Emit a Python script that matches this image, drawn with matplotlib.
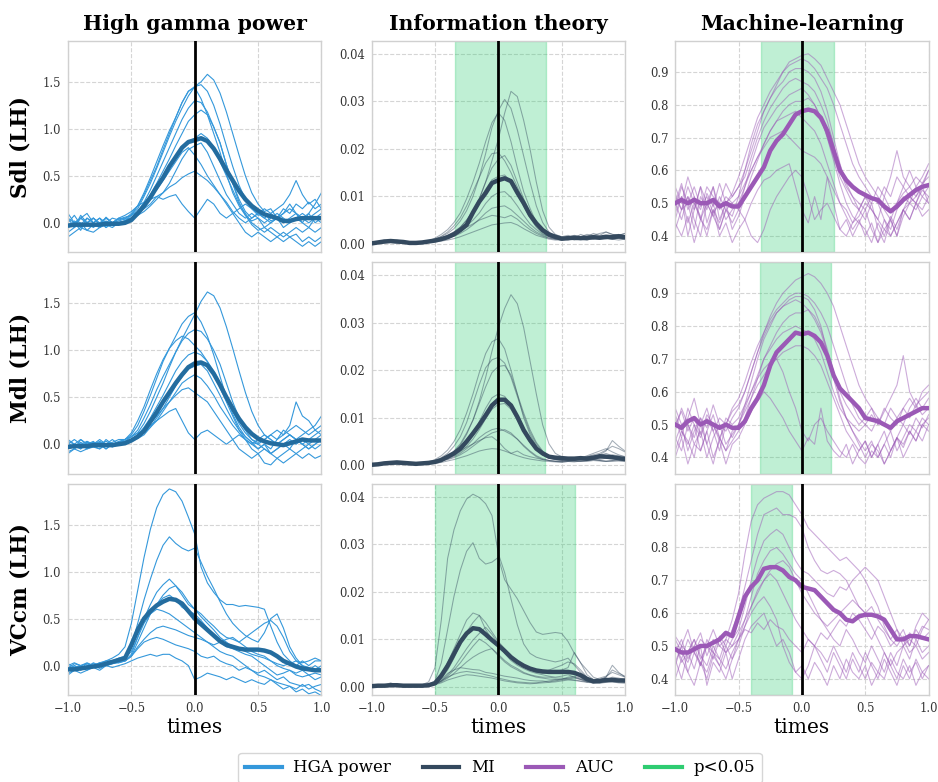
import numpy as np
import matplotlib
matplotlib.use('Agg')
import matplotlib.pyplot as plt
from matplotlib.lines import Line2D
from matplotlib.ticker import FormatStrFormatter

# ---------------- labels ----------------
ROW_LABELS = ['Sdl (LH)', 'Mdl (LH)', 'VCcm (LH)']
COL_TITLES = ['High gamma power', 'Information theory', 'Machine-learning']
LEGEND_LABELS = ['HGA power', 'MI', 'AUC', 'p<0.05']
X_TICKS = [-1.0, -0.5, 0.0, 0.5, 1.0]

# ---------------- HGA power ----------------
HGA_SDL_MEAN = [-0.03,-0.02,-0.02,-0.02,-0.02,-0.02,-0.01,-0.01,-0.01,0.00,
                0.03,0.10,0.18,0.27,0.38,0.48,0.60,0.70,0.80,0.86,
                0.88,0.90,0.87,0.79,0.68,0.56,0.45,0.34,0.25,0.18,
                0.13,0.09,0.07,0.05,0.02,0.02,0.04,0.05,0.05,0.05,0.05]
HGA_SDL_LINES = [
    [0.05,-0.05,0.08,0.00,0.05,-0.02,0.06,0.00,0.04,0.06, 0.08,0.15,0.28,0.42,0.58,0.75,0.92,1.08,1.22,1.35,
     1.45,1.50,1.58,1.52,1.38,1.18,0.95,0.72,0.50,0.32, 0.20,0.12,0.15,0.05,0.10,0.20,0.10,0.00,0.10,0.20,0.32],
    [-0.05,0.00,-0.08,0.05,0.00,-0.05,0.02,-0.03,0.00,0.02, 0.08,0.18,0.32,0.48,0.65,0.82,0.98,1.12,1.28,1.40,
     1.45,1.47,1.40,1.25,1.05,0.82,0.60,0.40,0.25,0.15, 0.08,0.10,0.02,0.05,0.15,0.10,0.20,0.15,0.22,0.15,0.20],
    [0.00,0.08,-0.02,0.05,0.00,0.05,-0.05,0.00,0.02,0.04, 0.10,0.18,0.30,0.45,0.60,0.78,0.95,1.12,1.28,1.40,
     1.44,1.32,1.15,0.95,0.75,0.52,0.32,0.18,0.08,0.02, 0.05,-0.05,0.00,0.05,-0.05,0.00,0.05,0.00,-0.05,0.05,0.10],
    [-0.10,-0.05,0.00,-0.08,-0.02,-0.05,0.00,-0.03,0.00,0.02, 0.05,0.12,0.22,0.35,0.50,0.65,0.80,0.95,1.10,1.22,
     1.30,1.28,1.18,1.02,0.85,0.62,0.42,0.22,0.08,-0.02, -0.08,-0.05,-0.10,-0.15,-0.10,-0.15,-0.12,-0.20,-0.15,-0.20,-0.15],
    [0.05,0.00,0.05,0.10,0.00,0.05,0.00,0.05,0.03,0.05, 0.08,0.12,0.20,0.30,0.42,0.55,0.68,0.82,0.95,1.08,
     1.15,1.20,1.15,1.02,0.85,0.62,0.42,0.25,0.12,0.05, 0.10,0.15,0.10,0.05,0.10,0.15,0.10,0.05,0.10,0.00,0.05],
    [-0.05,0.02,-0.03,0.00,-0.05,0.00,-0.02,0.00,0.00,0.02, 0.05,0.10,0.18,0.28,0.38,0.48,0.58,0.68,0.78,0.86,
     0.90,0.95,0.90,0.80,0.65,0.50,0.35,0.20,0.10,0.00, -0.05,-0.10,-0.05,-0.10,-0.15,-0.10,-0.05,-0.10,-0.05,-0.10,-0.05],
    [0.10,0.00,0.05,0.00,0.05,0.00,0.05,0.00,0.05,0.04, 0.05,0.08,0.12,0.18,0.25,0.32,0.42,0.55,0.68,0.78,
     0.82,0.85,0.75,0.60,0.45,0.30,0.20,0.10,0.05,0.10, 0.05,0.00,0.05,0.10,0.05,0.00,0.05,0.10,0.05,0.10,0.15],
    [-0.15,-0.10,-0.05,-0.08,-0.10,-0.05,-0.02,-0.05,0.00,0.02, 0.05,0.12,0.20,0.28,0.35,0.45,0.55,0.65,0.75,0.80,
     0.72,0.62,0.50,0.40,0.30,0.20,0.10,0.00,-0.10,-0.15, -0.10,-0.15,-0.20,-0.15,-0.20,-0.15,-0.20,-0.25,-0.20,-0.25,-0.20],
    [-0.05,0.00,-0.05,0.00,-0.03,0.00,-0.05,0.00,0.00,0.02, 0.05,0.10,0.15,0.20,0.28,0.32,0.38,0.42,0.48,0.52,
     0.55,0.50,0.45,0.38,0.30,0.22,0.12,0.05,0.00,0.05, 0.10,0.05,0.00,0.05,0.00,0.05,0.10,0.05,0.00,0.05,0.00],
    [0.00,-0.05,0.05,0.00,0.05,-0.02,0.05,0.00,0.05,0.08, 0.12,0.18,0.22,0.25,0.28,0.25,0.28,0.30,0.20,0.12,
     0.05,0.15,0.25,0.20,0.10,0.05,0.10,0.15,0.20,0.15, 0.10,0.05,0.10,0.15,0.20,0.30,0.45,0.30,0.20,0.25,0.15],
]

HGA_MDL_MEAN = [-0.03,-0.02,-0.02,-0.02,-0.01,-0.01,-0.01,-0.01,0.00,0.01,
                0.04,0.08,0.14,0.24,0.34,0.45,0.55,0.65,0.74,0.82,
                0.86,0.87,0.84,0.75,0.63,0.50,0.38,0.27,0.18,0.11,
                0.06,0.03,0.01,0.00,-0.01,0.01,0.03,0.05,0.04,0.04,0.04]
HGA_MDL_LINES = [
    [0.02,-0.05,0.05,0.00,0.03,-0.03,0.05,0.00,0.03,0.05, 0.08,0.12,0.22,0.35,0.50,0.65,0.82,0.98,1.12,1.25,
     1.38,1.52,1.62,1.58,1.45,1.25,1.02,0.78,0.55,0.35, 0.20,0.10,0.05,0.00,0.05,0.10,0.05,0.00,-0.05,0.00,0.05],
    [-0.05,0.00,-0.05,0.03,-0.02,0.00,-0.05,0.00,0.02,0.05, 0.10,0.20,0.35,0.52,0.70,0.88,1.02,1.15,1.28,1.36,
     1.40,1.30,1.15,0.95,0.72,0.50,0.32,0.18,0.08,0.02, -0.05,0.00,-0.10,-0.05,0.00,-0.05,0.05,0.00,-0.05,0.00,0.05],
    [0.05,0.00,-0.03,0.02,0.00,0.05,0.00,-0.02,0.00,0.03, 0.08,0.15,0.28,0.42,0.58,0.72,0.85,0.98,1.10,1.18,
     1.22,1.20,1.12,1.00,0.85,0.65,0.45,0.28,0.15,0.05, 0.00,-0.05,-0.10,-0.15,-0.20,-0.15,-0.10,-0.15,-0.10,-0.15,-0.12],
    [-0.08,-0.05,0.00,-0.05,-0.03,0.00,-0.05,0.00,0.00,0.05, 0.12,0.25,0.40,0.58,0.75,0.90,1.02,1.10,1.15,1.12,
     1.05,0.98,0.88,0.75,0.60,0.45,0.30,0.15,0.05,-0.05, -0.10,-0.20,-0.22,-0.15,-0.10,-0.05,-0.10,-0.05,0.00,-0.05,0.00],
    [0.00,0.05,0.00,0.03,0.00,0.02,0.00,0.05,0.00,0.03, 0.05,0.10,0.18,0.28,0.40,0.52,0.65,0.78,0.88,0.95,
     0.98,0.95,0.88,0.78,0.65,0.50,0.35,0.22,0.12,0.05, 0.02,0.05,0.10,0.05,0.15,0.10,0.05,0.10,0.15,0.20,0.30],
    [-0.05,-0.02,-0.05,0.00,-0.03,-0.05,0.00,-0.02,0.00,0.00, 0.03,0.06,0.10,0.18,0.28,0.38,0.50,0.62,0.72,0.80,
     0.83,0.85,0.78,0.65,0.52,0.38,0.25,0.15,0.08,0.02, 0.00,0.05,0.10,0.15,0.10,0.15,0.20,0.15,0.10,0.15,0.10],
    [0.03,0.00,0.05,0.00,0.02,0.00,0.03,0.00,0.02,0.03, 0.05,0.08,0.12,0.18,0.25,0.35,0.45,0.55,0.65,0.70,
     0.74,0.70,0.62,0.52,0.40,0.30,0.20,0.12,0.05,0.00, -0.05,0.00,-0.05,0.05,0.10,0.20,0.45,0.30,0.25,0.15,0.20],
    [-0.10,-0.05,-0.08,-0.05,-0.02,-0.05,0.00,-0.03,0.00,0.02, 0.05,0.10,0.15,0.22,0.30,0.38,0.45,0.52,0.58,0.60,
     0.55,0.50,0.45,0.35,0.25,0.15,0.05,-0.05,-0.10,-0.15, -0.10,-0.05,-0.10,-0.05,0.00,0.05,0.00,0.05,0.00,0.05,0.10],
    [0.00,-0.03,0.02,-0.02,0.00,0.03,0.00,0.02,0.05,0.05, 0.08,0.12,0.15,0.20,0.25,0.30,0.35,0.38,0.25,0.12,
     0.05,0.12,0.15,0.10,0.05,0.00,0.05,0.10,0.05,0.00, 0.05,0.10,0.05,0.00,0.05,0.10,0.05,0.00,0.05,0.10,0.15],
]

HGA_VCCM_MEAN = [-0.04,-0.04,-0.03,-0.02,-0.01,0.00,0.02,0.04,0.06,0.08,
                 0.22,0.38,0.50,0.58,0.64,0.68,0.71,0.70,0.66,0.58,
                 0.50,0.44,0.38,0.32,0.26,0.22,0.20,0.18,0.17,0.17,
                 0.17,0.16,0.14,0.10,0.05,0.02,-0.01,-0.03,-0.04,-0.05,-0.05]
HGA_VCCM_LINES = [
    [-0.05,0.00,-0.03,0.02,0.00,0.03,0.05,0.08,0.12,0.20, 0.45,0.80,1.15,1.45,1.68,1.82,1.88,1.85,1.75,1.58,
     1.40,1.05,0.88,0.78,0.70,0.65,0.65,0.63,0.64,0.63, 0.62,0.60,0.42,0.25,0.12,0.05,0.00,0.05,0.00,0.05,0.05],
    [-0.03,0.02,0.00,-0.02,0.03,0.00,0.02,0.05,0.05,0.08, 0.20,0.45,0.70,0.92,1.12,1.28,1.37,1.30,1.25,1.22,
     1.25,1.10,0.95,0.82,0.68,0.55,0.45,0.38,0.32,0.28, 0.25,0.35,0.50,0.55,0.40,0.20,0.08,0.00,-0.02,-0.05,0.00],
    [-0.08,-0.05,-0.02,-0.05,0.00,-0.03,0.00,0.02,0.03,0.05, 0.12,0.30,0.50,0.65,0.78,0.86,0.92,0.85,0.75,0.65,
     0.60,0.55,0.48,0.42,0.35,0.30,0.28,0.25,0.30,0.35, 0.40,0.45,0.48,0.42,0.30,0.15,0.05,0.00,-0.05,0.00,-0.05],
    [0.00,-0.05,0.00,0.02,0.00,0.03,0.00,0.02,0.05,0.05, 0.10,0.25,0.40,0.55,0.65,0.75,0.82,0.85,0.78,0.68,
     0.60,0.52,0.45,0.38,0.30,0.25,0.20,0.18,0.15,0.12, 0.10,0.08,0.05,0.00,-0.03,-0.05,-0.08,-0.05,-0.10,-0.08,-0.10],
    [-0.05,-0.02,0.00,-0.03,0.00,0.02,0.00,0.03,0.05,0.08, 0.15,0.30,0.45,0.55,0.65,0.72,0.75,0.70,0.62,0.58,
     0.55,0.48,0.40,0.32,0.25,0.20,0.18,0.15,0.12,0.10, 0.05,0.00,-0.05,-0.10,-0.08,-0.05,-0.10,-0.12,-0.10,-0.15,-0.12],
    [0.02,-0.02,0.00,0.03,0.00,0.02,0.05,0.05,0.08,0.10, 0.20,0.35,0.48,0.55,0.60,0.58,0.55,0.50,0.45,0.40,
     0.35,0.30,0.25,0.20,0.15,0.12,0.10,0.05,0.00,-0.05, -0.10,-0.12,-0.15,-0.18,-0.20,-0.22,-0.25,-0.20,-0.25,-0.22,-0.20],
    [-0.05,0.00,-0.05,0.00,0.02,0.00,0.02,0.05,0.03,0.05, 0.10,0.20,0.28,0.35,0.40,0.42,0.40,0.38,0.35,0.32,
     0.30,0.28,0.25,0.22,0.25,0.28,0.30,0.25,0.20,0.15, 0.12,0.10,0.05,0.02,0.00,0.02,0.05,0.03,0.05,0.08,0.05],
    [0.00,0.03,0.00,-0.02,0.00,0.02,0.00,0.03,0.05,0.05, 0.10,0.18,0.25,0.28,0.30,0.28,0.25,0.22,0.20,0.18,
     0.15,0.10,0.08,0.10,0.05,0.02,0.00,-0.05,-0.02,-0.05, -0.08,-0.05,-0.10,-0.15,-0.12,-0.18,-0.20,-0.22,-0.20,-0.25,-0.28],
    [-0.10,-0.05,-0.08,-0.05,-0.02,-0.05,0.00,-0.02,0.00,0.02, 0.05,0.08,0.10,0.12,0.10,0.12,0.12,0.08,0.05,0.00,
     -0.15,-0.12,-0.08,-0.10,-0.12,-0.15,-0.12,-0.15,-0.18,-0.15, -0.18,-0.20,-0.15,-0.20,-0.25,-0.22,-0.28,-0.25,-0.30,-0.28,-0.32],
]

# ---------------- MI ----------------
MI_SDL_MEAN = [0.0001,0.0003,0.0005,0.0006,0.0005,0.0004,0.0002,0.0002,0.0003,0.0005,
               0.0007,0.0010,0.0014,0.0020,0.0029,0.0040,0.0066,0.0089,0.0107,0.0128,
               0.0134,0.0138,0.0132,0.0108,0.0086,0.0061,0.0043,0.0029,0.0020,0.0015,
               0.0011,0.0012,0.0013,0.0012,0.0013,0.0014,0.0013,0.0015,0.0014,0.0016,0.0014]
MI_SDL_LINES = [
    [0.0000,0.0003,0.0005,0.0008,0.0005,0.0003,0.0002,0.0001,0.0003,0.0005, 0.0008,0.0012,0.0018,0.0025,0.0035,0.0050,0.0070,0.0095,0.0130,0.0175,
     0.0220,0.0275,0.0321,0.0310,0.0260,0.0200,0.0130,0.0070,0.0035,0.0020, 0.0015,0.0018,0.0012,0.0020,0.0015,0.0022,0.0018,0.0025,0.0020,0.0018,0.0022],
    [0.0002,0.0005,0.0008,0.0006,0.0004,0.0002,0.0003,0.0005,0.0004,0.0006, 0.0010,0.0015,0.0022,0.0032,0.0048,0.0070,0.0100,0.0140,0.0190,0.0245,
     0.0280,0.0304,0.0285,0.0240,0.0185,0.0130,0.0080,0.0045,0.0025,0.0015, 0.0012,0.0015,0.0010,0.0015,0.0012,0.0018,0.0015,0.0012,0.0018,0.0020,0.0015],
    [0.0001,0.0002,0.0004,0.0006,0.0008,0.0005,0.0003,0.0002,0.0004,0.0006, 0.0012,0.0020,0.0030,0.0045,0.0065,0.0095,0.0130,0.0170,0.0215,0.0255,
     0.0276,0.0260,0.0215,0.0160,0.0110,0.0075,0.0045,0.0028,0.0018,0.0012, 0.0010,0.0012,0.0015,0.0010,0.0012,0.0010,0.0015,0.0012,0.0010,0.0012,0.0010],
    [0.0001,0.0004,0.0006,0.0005,0.0003,0.0004,0.0002,0.0003,0.0005,0.0006, 0.0010,0.0016,0.0025,0.0038,0.0055,0.0080,0.0110,0.0140,0.0170,0.0190,
     0.0192,0.0175,0.0150,0.0120,0.0090,0.0060,0.0040,0.0025,0.0018,0.0012, 0.0010,0.0008,0.0012,0.0010,0.0008,0.0012,0.0010,0.0012,0.0010,0.0008,0.0010],
    [0.0000,0.0002,0.0003,0.0005,0.0004,0.0002,0.0001,0.0002,0.0003,0.0004, 0.0006,0.0010,0.0015,0.0022,0.0032,0.0045,0.0065,0.0095,0.0130,0.0160,
     0.0178,0.0186,0.0165,0.0130,0.0095,0.0065,0.0040,0.0025,0.0015,0.0010, 0.0012,0.0010,0.0013,0.0015,0.0012,0.0010,0.0012,0.0015,0.0013,0.0015,0.0012],
    [0.0002,0.0003,0.0005,0.0006,0.0005,0.0003,0.0002,0.0003,0.0004,0.0005, 0.0008,0.0012,0.0018,0.0025,0.0035,0.0050,0.0068,0.0090,0.0115,0.0135,
     0.0142,0.0145,0.0130,0.0105,0.0080,0.0055,0.0035,0.0022,0.0015,0.0012, 0.0010,0.0012,0.0008,0.0010,0.0012,0.0015,0.0012,0.0010,0.0012,0.0015,0.0012],
    [0.0001,0.0002,0.0003,0.0004,0.0003,0.0002,0.0001,0.0002,0.0003,0.0004, 0.0006,0.0010,0.0014,0.0020,0.0028,0.0038,0.0050,0.0065,0.0085,0.0100,
     0.0108,0.0110,0.0098,0.0080,0.0060,0.0042,0.0030,0.0020,0.0015,0.0012, 0.0012,0.0014,0.0018,0.0015,0.0020,0.0018,0.0022,0.0025,0.0020,0.0018,0.0022],
    [0.0000,0.0001,0.0002,0.0004,0.0005,0.0003,0.0002,0.0002,0.0003,0.0004, 0.0005,0.0008,0.0012,0.0016,0.0022,0.0030,0.0040,0.0052,0.0065,0.0075,
     0.0078,0.0080,0.0072,0.0060,0.0048,0.0035,0.0025,0.0018,0.0012,0.0010, 0.0008,0.0010,0.0012,0.0010,0.0008,0.0012,0.0015,0.0012,0.0010,0.0012,0.0015],
    [0.0001,0.0002,0.0004,0.0003,0.0002,0.0003,0.0002,0.0003,0.0004,0.0005, 0.0007,0.0010,0.0014,0.0020,0.0028,0.0035,0.0042,0.0050,0.0055,0.0060,
     0.0058,0.0055,0.0060,0.0052,0.0040,0.0030,0.0022,0.0016,0.0012,0.0010, 0.0010,0.0012,0.0014,0.0012,0.0010,0.0013,0.0012,0.0015,0.0017,0.0014,0.0012],
    [0.0000,0.0001,0.0002,0.0003,0.0002,0.0001,0.0002,0.0003,0.0002,0.0003, 0.0004,0.0006,0.0008,0.0011,0.0015,0.0020,0.0025,0.0030,0.0035,0.0040,
     0.0042,0.0044,0.0045,0.0040,0.0032,0.0025,0.0018,0.0014,0.0010,0.0008, 0.0008,0.0010,0.0009,0.0011,0.0010,0.0012,0.0010,0.0011,0.0013,0.0011,0.0010],
]

MI_MDL_MEAN = [0.0001,0.0002,0.0004,0.0005,0.0006,0.0005,0.0004,0.0003,0.0004,0.0005,
               0.0007,0.0011,0.0018,0.0025,0.0035,0.0050,0.0067,0.0085,0.0105,0.0126,
               0.0138,0.0138,0.0126,0.0102,0.0074,0.0053,0.0035,0.0025,0.0018,0.0016,
               0.0015,0.0014,0.0014,0.0015,0.0014,0.0016,0.0019,0.0018,0.0017,0.0015,0.0013]
MI_MDL_LINES = [
    [0.0000,0.0002,0.0004,0.0006,0.0005,0.0003,0.0002,0.0003,0.0004,0.0005, 0.0008,0.0012,0.0018,0.0028,0.0042,0.0065,0.0095,0.0135,0.0185,0.0240,
     0.0290,0.0330,0.0359,0.0340,0.0290,0.0220,0.0150,0.0085,0.0045,0.0025, 0.0018,0.0015,0.0012,0.0015,0.0018,0.0020,0.0015,0.0018,0.0022,0.0020,0.0018],
    [0.0001,0.0003,0.0005,0.0004,0.0006,0.0004,0.0003,0.0004,0.0005,0.0007, 0.0012,0.0020,0.0032,0.0050,0.0075,0.0110,0.0150,0.0195,0.0235,0.0260,
     0.0267,0.0245,0.0200,0.0150,0.0100,0.0065,0.0040,0.0025,0.0018,0.0015, 0.0012,0.0015,0.0012,0.0015,0.0020,0.0025,0.0030,0.0035,0.0028,0.0022,0.0018],
    [0.0002,0.0004,0.0003,0.0005,0.0004,0.0006,0.0004,0.0003,0.0005,0.0006, 0.0010,0.0016,0.0025,0.0040,0.0060,0.0090,0.0130,0.0170,0.0205,0.0222,
     0.0227,0.0215,0.0185,0.0145,0.0105,0.0070,0.0045,0.0028,0.0018,0.0014, 0.0012,0.0014,0.0016,0.0014,0.0018,0.0022,0.0025,0.0032,0.0040,0.0035,0.0028],
    [0.0001,0.0002,0.0004,0.0005,0.0003,0.0004,0.0002,0.0003,0.0004,0.0005, 0.0008,0.0012,0.0020,0.0030,0.0045,0.0068,0.0095,0.0130,0.0165,0.0195,
     0.0208,0.0210,0.0190,0.0150,0.0110,0.0075,0.0048,0.0030,0.0020,0.0015, 0.0012,0.0010,0.0012,0.0015,0.0012,0.0018,0.0022,0.0030,0.0052,0.0040,0.0030],
    [0.0000,0.0002,0.0003,0.0005,0.0004,0.0003,0.0002,0.0003,0.0004,0.0005, 0.0007,0.0010,0.0015,0.0022,0.0032,0.0048,0.0068,0.0092,0.0120,0.0142,
     0.0150,0.0145,0.0128,0.0100,0.0072,0.0050,0.0032,0.0022,0.0015,0.0012, 0.0010,0.0012,0.0010,0.0014,0.0012,0.0015,0.0020,0.0025,0.0020,0.0015,0.0012],
    [0.0001,0.0003,0.0002,0.0004,0.0005,0.0003,0.0002,0.0003,0.0002,0.0004, 0.0006,0.0010,0.0014,0.0020,0.0028,0.0040,0.0055,0.0075,0.0098,0.0118,
     0.0128,0.0130,0.0118,0.0095,0.0070,0.0048,0.0032,0.0022,0.0016,0.0012, 0.0010,0.0008,0.0010,0.0012,0.0010,0.0012,0.0015,0.0018,0.0015,0.0012,0.0010],
    [0.0000,0.0001,0.0003,0.0004,0.0003,0.0002,0.0001,0.0002,0.0003,0.0004, 0.0006,0.0009,0.0013,0.0018,0.0025,0.0035,0.0045,0.0058,0.0068,0.0075,
     0.0078,0.0072,0.0065,0.0055,0.0042,0.0030,0.0020,0.0014,0.0010,0.0008, 0.0008,0.0010,0.0008,0.0010,0.0012,0.0014,0.0012,0.0015,0.0013,0.0012,0.0010],
    [0.0001,0.0002,0.0003,0.0002,0.0004,0.0003,0.0002,0.0003,0.0004,0.0005, 0.0006,0.0009,0.0012,0.0016,0.0022,0.0030,0.0040,0.0050,0.0060,0.0068,
     0.0072,0.0075,0.0068,0.0055,0.0040,0.0028,0.0018,0.0012,0.0010,0.0008, 0.0006,0.0008,0.0010,0.0008,0.0010,0.0012,0.0010,0.0008,0.0010,0.0012,0.0010],
    [0.0000,0.0002,0.0003,0.0004,0.0003,0.0002,0.0003,0.0002,0.0003,0.0004, 0.0006,0.0010,0.0015,0.0022,0.0030,0.0038,0.0045,0.0052,0.0058,0.0060,
     0.0050,0.0035,0.0025,0.0030,0.0022,0.0018,0.0015,0.0012,0.0010,0.0009, 0.0008,0.0010,0.0009,0.0008,0.0010,0.0012,0.0010,0.0009,0.0008,0.0010,0.0009],
    [0.0000,0.0001,0.0002,0.0003,0.0002,0.0001,0.0002,0.0003,0.0002,0.0003, 0.0004,0.0006,0.0009,0.0012,0.0016,0.0020,0.0025,0.0030,0.0033,0.0035,
     0.0034,0.0030,0.0025,0.0020,0.0016,0.0013,0.0011,0.0009,0.0008,0.0007, 0.0007,0.0008,0.0007,0.0009,0.0008,0.0010,0.0009,0.0008,0.0010,0.0009,0.0008],
]

MI_VCCM_MEAN = [0.0001,0.0002,0.0002,0.0003,0.0003,0.0002,0.0002,0.0002,0.0002,0.0003,
                0.0007,0.0023,0.0044,0.0069,0.0094,0.0112,0.0123,0.0121,0.0110,0.0098,
                0.0087,0.0075,0.0062,0.0052,0.0044,0.0038,0.0034,0.0032,0.0031,0.0031,
                0.0031,0.0031,0.0029,0.0024,0.0016,0.0011,0.0012,0.0014,0.0014,0.0013,0.0013]
MI_VCCM_LINES = [
    [0.0001,0.0002,0.0003,0.0008,0.0003,0.0002,0.0002,0.0003,0.0004,0.0010, 0.0040,0.0140,0.0270,0.0330,0.0370,0.0395,0.0405,0.0398,0.0385,0.0360,
     0.0280,0.0240,0.0185,0.0130,0.0090,0.0070,0.0062,0.0058,0.0055,0.0052, 0.0055,0.0060,0.0045,0.0030,0.0020,0.0015,0.0018,0.0022,0.0030,0.0025,0.0020],
    [0.0000,0.0002,0.0003,0.0004,0.0003,0.0002,0.0003,0.0002,0.0003,0.0005, 0.0012,0.0050,0.0120,0.0190,0.0245,0.0285,0.0303,0.0270,0.0258,0.0262,
     0.0272,0.0225,0.0205,0.0185,0.0160,0.0135,0.0115,0.0110,0.0112,0.0114, 0.0112,0.0095,0.0070,0.0050,0.0035,0.0020,0.0015,0.0020,0.0035,0.0028,0.0022],
    [0.0001,0.0002,0.0003,0.0002,0.0003,0.0002,0.0001,0.0002,0.0003,0.0004, 0.0008,0.0025,0.0050,0.0080,0.0110,0.0140,0.0155,0.0150,0.0120,0.0100,
     0.0085,0.0072,0.0060,0.0050,0.0042,0.0035,0.0030,0.0028,0.0030,0.0032, 0.0035,0.0040,0.0072,0.0050,0.0025,0.0015,0.0012,0.0015,0.0020,0.0018,0.0015],
    [0.0002,0.0001,0.0003,0.0002,0.0003,0.0002,0.0002,0.0003,0.0002,0.0003, 0.0006,0.0018,0.0035,0.0060,0.0090,0.0115,0.0135,0.0150,0.0135,0.0115,
     0.0095,0.0080,0.0065,0.0052,0.0042,0.0036,0.0032,0.0030,0.0035,0.0040, 0.0045,0.0052,0.0048,0.0035,0.0020,0.0012,0.0010,0.0012,0.0015,0.0012,0.0010],
    [0.0001,0.0002,0.0002,0.0003,0.0002,0.0003,0.0002,0.0001,0.0002,0.0003, 0.0005,0.0012,0.0025,0.0040,0.0060,0.0080,0.0098,0.0112,0.0125,0.0110,
     0.0090,0.0070,0.0055,0.0045,0.0038,0.0032,0.0028,0.0025,0.0022,0.0020, 0.0022,0.0025,0.0020,0.0015,0.0010,0.0008,0.0010,0.0012,0.0014,0.0012,0.0010],
    [0.0000,0.0001,0.0002,0.0002,0.0003,0.0002,0.0001,0.0002,0.0002,0.0003, 0.0005,0.0012,0.0022,0.0035,0.0050,0.0068,0.0085,0.0100,0.0092,0.0080,
     0.0065,0.0052,0.0042,0.0035,0.0028,0.0024,0.0020,0.0018,0.0016,0.0015, 0.0014,0.0016,0.0018,0.0015,0.0012,0.0010,0.0012,0.0010,0.0012,0.0014,0.0012],
    [0.0001,0.0001,0.0002,0.0003,0.0002,0.0001,0.0002,0.0002,0.0003,0.0003, 0.0005,0.0010,0.0018,0.0028,0.0040,0.0052,0.0062,0.0070,0.0076,0.0080,
     0.0068,0.0055,0.0045,0.0038,0.0030,0.0025,0.0022,0.0020,0.0020,0.0018, 0.0018,0.0016,0.0014,0.0012,0.0010,0.0012,0.0014,0.0020,0.0045,0.0030,0.0020],
    [0.0000,0.0001,0.0002,0.0001,0.0002,0.0001,0.0002,0.0001,0.0002,0.0003, 0.0006,0.0015,0.0028,0.0035,0.0040,0.0038,0.0036,0.0035,0.0030,0.0028,
     0.0025,0.0022,0.0020,0.0018,0.0015,0.0013,0.0012,0.0012,0.0010,0.0012, 0.0015,0.0018,0.0020,0.0016,0.0012,0.0010,0.0012,0.0015,0.0018,0.0015,0.0012],
    [0.0001,0.0000,0.0001,0.0002,0.0001,0.0002,0.0001,0.0002,0.0002,0.0003, 0.0005,0.0012,0.0020,0.0026,0.0030,0.0032,0.0030,0.0028,0.0025,0.0022,
     0.0018,0.0015,0.0012,0.0010,0.0009,0.0008,0.0008,0.0010,0.0012,0.0014, 0.0016,0.0020,0.0022,0.0018,0.0012,0.0009,0.0008,0.0010,0.0012,0.0010,0.0009],
    [0.0000,0.0001,0.0001,0.0002,0.0001,0.0001,0.0002,0.0001,0.0001,0.0002, 0.0004,0.0008,0.0014,0.0018,0.0022,0.0025,0.0024,0.0022,0.0020,0.0018,
     0.0015,0.0012,0.0010,0.0008,0.0007,0.0006,0.0007,0.0008,0.0009,0.0010, 0.0012,0.0014,0.0013,0.0011,0.0009,0.0008,0.0007,0.0009,0.0010,0.0008,0.0007],
]

# ---------------- AUC ----------------
AUC_SDL_MEAN = [0.50,0.51,0.50,0.51,0.50,0.50,0.51,0.49,0.50,0.49,
                0.49,0.52,0.55,0.58,0.61,0.66,0.69,0.71,0.74,0.77,
                0.78,0.785,0.78,0.76,0.72,0.66,0.60,0.57,0.55,0.535,
                0.525,0.515,0.51,0.49,0.475,0.49,0.51,0.525,0.54,0.55,0.555]
AUC_SDL_LINES = [
    [0.52,0.48,0.55,0.50,0.45,0.53,0.49,0.56,0.50,0.52, 0.55,0.60,0.66,0.72,0.78,0.82,0.86,0.90,0.93,0.94,
     0.95,0.955,0.94,0.92,0.88,0.84,0.80,0.74,0.68,0.62, 0.58,0.55,0.52,0.48,0.45,0.50,0.53,0.55,0.58,0.56,0.60],
    [0.48,0.55,0.50,0.42,0.52,0.48,0.55,0.45,0.50,0.53, 0.58,0.64,0.70,0.76,0.80,0.84,0.87,0.90,0.92,0.93,
     0.94,0.93,0.91,0.88,0.85,0.80,0.74,0.68,0.62,0.58, 0.55,0.52,0.50,0.45,0.42,0.48,0.52,0.50,0.55,0.52,0.55],
    [0.45,0.52,0.40,0.48,0.55,0.44,0.50,0.42,0.48,0.46, 0.52,0.60,0.68,0.74,0.78,0.82,0.85,0.87,0.90,0.91,
     0.91,0.90,0.88,0.84,0.78,0.70,0.62,0.56,0.52,0.48, 0.45,0.50,0.42,0.38,0.45,0.40,0.48,0.52,0.50,0.55,0.50],
    [0.55,0.50,0.58,0.52,0.48,0.55,0.52,0.50,0.56,0.52, 0.55,0.58,0.64,0.70,0.75,0.79,0.82,0.85,0.87,0.88,
     0.87,0.86,0.84,0.80,0.75,0.68,0.60,0.55,0.52,0.50, 0.48,0.52,0.50,0.55,0.52,0.58,0.55,0.60,0.55,0.58,0.62],
    [0.42,0.48,0.52,0.45,0.40,0.50,0.46,0.42,0.48,0.44, 0.48,0.55,0.62,0.68,0.73,0.76,0.79,0.81,0.83,0.84,
     0.85,0.83,0.80,0.76,0.70,0.63,0.56,0.50,0.46,0.44, 0.48,0.42,0.38,0.45,0.40,0.44,0.48,0.45,0.50,0.48,0.52],
    [0.50,0.45,0.52,0.48,0.55,0.50,0.46,0.52,0.48,0.50, 0.52,0.56,0.60,0.64,0.68,0.72,0.75,0.78,0.80,0.81,
     0.81,0.82,0.80,0.76,0.70,0.64,0.58,0.54,0.50,0.48, 0.52,0.50,0.55,0.52,0.58,0.66,0.58,0.55,0.52,0.56,0.58],
    [0.47,0.52,0.44,0.50,0.46,0.40,0.48,0.44,0.50,0.42, 0.46,0.52,0.58,0.63,0.68,0.72,0.75,0.76,0.77,0.78,
     0.76,0.74,0.72,0.68,0.62,0.56,0.50,0.46,0.42,0.45, 0.40,0.44,0.38,0.42,0.45,0.40,0.46,0.50,0.48,0.52,0.50],
    [0.53,0.48,0.50,0.55,0.49,0.52,0.47,0.50,0.45,0.48, 0.50,0.55,0.60,0.64,0.67,0.70,0.71,0.72,0.70,0.68,
     0.66,0.65,0.64,0.62,0.58,0.54,0.50,0.48,0.44,0.46, 0.50,0.48,0.45,0.52,0.48,0.50,0.55,0.52,0.50,0.54,0.52],
    [0.44,0.40,0.46,0.38,0.45,0.42,0.48,0.40,0.44,0.38, 0.42,0.45,0.50,0.54,0.57,0.58,0.60,0.61,0.62,0.55,
     0.48,0.44,0.52,0.45,0.58,0.50,0.42,0.45,0.40,0.44, 0.42,0.38,0.44,0.40,0.46,0.42,0.48,0.45,0.50,0.46,0.48],
    [0.50,0.56,0.48,0.52,0.45,0.50,0.55,0.48,0.52,0.50, 0.48,0.45,0.40,0.38,0.42,0.48,0.52,0.55,0.58,0.60,
     0.58,0.52,0.45,0.48,0.50,0.46,0.42,0.40,0.44,0.48, 0.52,0.48,0.45,0.42,0.40,0.44,0.48,0.50,0.52,0.55,0.60],
]

AUC_MDL_MEAN = [0.50,0.49,0.51,0.52,0.50,0.51,0.50,0.49,0.50,0.49,
                0.49,0.51,0.55,0.58,0.62,0.68,0.72,0.74,0.76,0.78,
                0.775,0.78,0.77,0.75,0.71,0.65,0.61,0.59,0.57,0.55,
                0.52,0.515,0.51,0.50,0.49,0.51,0.52,0.53,0.54,0.55,0.55]
AUC_MDL_LINES = [
    [0.48,0.55,0.50,0.46,0.52,0.49,0.56,0.50,0.48,0.52, 0.55,0.60,0.66,0.72,0.78,0.83,0.87,0.90,0.92,0.94,
     0.95,0.96,0.95,0.93,0.90,0.86,0.80,0.74,0.68,0.62, 0.58,0.55,0.52,0.50,0.48,0.52,0.55,0.58,0.55,0.60,0.62],
    [0.52,0.46,0.55,0.50,0.42,0.48,0.53,0.46,0.50,0.55, 0.58,0.63,0.69,0.74,0.78,0.82,0.85,0.87,0.89,0.90,
     0.90,0.89,0.87,0.84,0.80,0.74,0.68,0.62,0.56,0.52, 0.50,0.48,0.52,0.50,0.55,0.52,0.50,0.55,0.58,0.55,0.58],
    [0.45,0.50,0.42,0.48,0.52,0.44,0.50,0.46,0.42,0.48, 0.50,0.56,0.63,0.70,0.76,0.80,0.84,0.86,0.88,0.89,
     0.89,0.88,0.85,0.80,0.72,0.64,0.57,0.52,0.48,0.45, 0.42,0.45,0.40,0.44,0.48,0.42,0.46,0.50,0.48,0.52,0.50],
    [0.55,0.50,0.52,0.58,0.50,0.55,0.48,0.52,0.50,0.54, 0.56,0.60,0.66,0.72,0.77,0.81,0.84,0.86,0.87,0.88,
     0.87,0.85,0.82,0.78,0.72,0.66,0.60,0.56,0.53,0.50, 0.52,0.55,0.50,0.54,0.58,0.62,0.71,0.60,0.56,0.58,0.60],
    [0.42,0.48,0.45,0.40,0.50,0.44,0.38,0.46,0.42,0.45, 0.48,0.52,0.58,0.64,0.70,0.74,0.78,0.81,0.83,0.84,
     0.84,0.85,0.83,0.79,0.73,0.66,0.58,0.52,0.48,0.44, 0.40,0.44,0.42,0.38,0.42,0.46,0.44,0.48,0.45,0.50,0.52],
    [0.50,0.54,0.48,0.52,0.47,0.53,0.50,0.45,0.52,0.50, 0.52,0.56,0.60,0.65,0.70,0.73,0.76,0.78,0.79,0.80,
     0.79,0.78,0.76,0.72,0.66,0.60,0.55,0.52,0.50,0.48, 0.50,0.53,0.50,0.55,0.52,0.50,0.55,0.52,0.56,0.53,0.55],
    [0.46,0.42,0.50,0.44,0.48,0.40,0.46,0.50,0.44,0.47, 0.50,0.54,0.58,0.62,0.65,0.68,0.70,0.72,0.73,0.74,
     0.74,0.73,0.71,0.68,0.63,0.58,0.53,0.48,0.45,0.42, 0.45,0.40,0.44,0.48,0.42,0.46,0.50,0.47,0.52,0.49,0.53],
    [0.53,0.48,0.44,0.50,0.46,0.52,0.48,0.42,0.50,0.46, 0.50,0.55,0.60,0.64,0.67,0.69,0.70,0.66,0.60,0.55,
     0.48,0.45,0.50,0.52,0.48,0.45,0.42,0.40,0.44,0.40, 0.38,0.42,0.40,0.44,0.40,0.46,0.43,0.48,0.45,0.50,0.48],
    [0.40,0.46,0.38,0.44,0.42,0.48,0.40,0.45,0.38,0.44, 0.46,0.50,0.54,0.57,0.60,0.58,0.55,0.52,0.48,0.45,
     0.42,0.46,0.44,0.55,0.45,0.42,0.40,0.44,0.38,0.42, 0.45,0.40,0.44,0.38,0.42,0.46,0.40,0.44,0.48,0.45,0.50],
]

AUC_VCCM_MEAN = [0.49,0.48,0.48,0.49,0.50,0.50,0.51,0.52,0.54,0.53,
                 0.59,0.65,0.68,0.70,0.735,0.74,0.74,0.73,0.71,0.70,
                 0.68,0.675,0.67,0.65,0.63,0.61,0.60,0.58,0.575,0.59,
                 0.595,0.595,0.59,0.58,0.55,0.52,0.52,0.53,0.53,0.525,0.52]
AUC_VCCM_LINES = [
    [0.45,0.50,0.48,0.52,0.46,0.50,0.55,0.50,0.52,0.58, 0.66,0.78,0.88,0.93,0.95,0.96,0.97,0.97,0.96,0.93,
     0.90,0.86,0.84,0.82,0.80,0.78,0.76,0.77,0.75,0.73, 0.70,0.66,0.62,0.56,0.52,0.55,0.50,0.54,0.52,0.56,0.55],
    [0.50,0.46,0.52,0.48,0.44,0.50,0.48,0.53,0.50,0.55, 0.60,0.68,0.76,0.84,0.90,0.91,0.92,0.90,0.90,0.89,
     0.86,0.80,0.76,0.73,0.72,0.73,0.72,0.70,0.66,0.62, 0.60,0.56,0.52,0.48,0.44,0.48,0.50,0.52,0.50,0.55,0.58],
    [0.52,0.48,0.45,0.50,0.54,0.47,0.52,0.50,0.48,0.52, 0.55,0.62,0.70,0.77,0.82,0.84,0.855,0.84,0.80,0.76,
     0.73,0.72,0.70,0.68,0.66,0.65,0.68,0.67,0.70,0.72, 0.74,0.72,0.70,0.65,0.60,0.55,0.52,0.48,0.50,0.46,0.48],
    [0.44,0.50,0.42,0.48,0.45,0.40,0.47,0.44,0.50,0.46, 0.52,0.58,0.65,0.72,0.76,0.79,0.80,0.78,0.75,0.72,
     0.70,0.66,0.62,0.58,0.55,0.52,0.50,0.55,0.52,0.48, 0.45,0.50,0.46,0.42,0.48,0.44,0.50,0.46,0.52,0.48,0.50],
    [0.48,0.52,0.46,0.50,0.44,0.52,0.48,0.46,0.52,0.50, 0.54,0.58,0.62,0.66,0.70,0.73,0.75,0.76,0.74,0.70,
     0.66,0.63,0.60,0.58,0.56,0.58,0.60,0.62,0.64,0.62, 0.60,0.62,0.58,0.55,0.52,0.50,0.53,0.50,0.55,0.52,0.54],
    [0.40,0.46,0.42,0.38,0.45,0.42,0.48,0.44,0.40,0.46, 0.50,0.56,0.62,0.67,0.70,0.72,0.70,0.66,0.62,0.58,
     0.55,0.52,0.50,0.48,0.45,0.50,0.46,0.42,0.48,0.44, 0.40,0.45,0.42,0.48,0.44,0.40,0.46,0.42,0.45,0.40,0.44],
    [0.50,0.45,0.48,0.52,0.47,0.44,0.50,0.46,0.43,0.48, 0.52,0.56,0.60,0.63,0.65,0.62,0.58,0.50,0.45,0.42,
     0.40,0.44,0.50,0.46,0.42,0.48,0.44,0.40,0.46,0.42, 0.48,0.44,0.40,0.46,0.42,0.38,0.44,0.40,0.46,0.42,0.40],
    [0.46,0.40,0.48,0.43,0.50,0.38,0.45,0.42,0.48,0.40, 0.46,0.52,0.56,0.58,0.60,0.55,0.50,0.52,0.48,0.42,
     0.44,0.40,0.45,0.42,0.38,0.44,0.40,0.46,0.42,0.40, 0.44,0.38,0.42,0.40,0.46,0.42,0.40,0.44,0.38,0.42,0.44],
    [0.53,0.50,0.55,0.48,0.52,0.50,0.46,0.52,0.48,0.50, 0.52,0.55,0.54,0.57,0.55,0.58,0.56,0.55,0.52,0.50,
     0.48,0.52,0.50,0.54,0.52,0.55,0.58,0.56,0.60,0.58, 0.55,0.52,0.56,0.54,0.50,0.52,0.55,0.50,0.56,0.60,0.58],
]

# significance windows (start, end) in seconds
MI_SIG = [(-0.34, 0.375), (-0.34, 0.37), (-0.50, 0.605)]
AUC_SIG = [(-0.32, 0.25), (-0.33, 0.23), (-0.40, -0.08)]

# ---------------- style ----------------
C_HGA, C_HGA_MEAN = '#3498db', '#236c9f'
C_MI = '#34495e'
C_AUC = '#9b59b6'
C_SIG = '#2ecc71'

plt.rcParams.update({
    'font.family': ['DejaVu Serif'],
    'axes.edgecolor': '#d0d0d0',
    'axes.linewidth': 1.0,
    'axes.facecolor': 'white',
    'grid.color': '#d5d5d5',
    'grid.linestyle': '--',
    'grid.linewidth': 0.8,
    'xtick.color': '#333333',
    'ytick.color': '#333333',
    'xtick.labelsize': 8.3,
    'ytick.labelsize': 8.3,
    'xtick.major.size': 0,
    'ytick.major.size': 0,
})

fig, axes = plt.subplots(3, 3, figsize=(9.38, 7.82), dpi=100, sharex=True)
fig.subplots_adjust(left=0.0725, right=0.990, top=0.9476, bottom=0.111,
                    wspace=0.198, hspace=0.047)

hga = [(HGA_SDL_LINES, HGA_SDL_MEAN), (HGA_MDL_LINES, HGA_MDL_MEAN), (HGA_VCCM_LINES, HGA_VCCM_MEAN)]
mi = [(MI_SDL_LINES, MI_SDL_MEAN), (MI_MDL_LINES, MI_MDL_MEAN), (MI_VCCM_LINES, MI_VCCM_MEAN)]
auc = [(AUC_SDL_LINES, AUC_SDL_MEAN), (AUC_MDL_LINES, AUC_MDL_MEAN), (AUC_VCCM_LINES, AUC_VCCM_MEAN)]

YLIMS = [(-0.315, 1.935), (-0.0018, 0.0427), (0.35, 0.994)]
YTICKS = [[0.0, 0.5, 1.0, 1.5], [0.0, 0.01, 0.02, 0.03, 0.04], [0.4, 0.5, 0.6, 0.7, 0.8, 0.9]]
YFMT = ['%.1f', '%.2f', '%.1f']

def tgrid(y):
    return np.linspace(-1.0, 1.0, len(y))

for r in range(3):
    # HGA
    ax = axes[r, 0]
    lines, mean = hga[r]
    for y in lines:
        ax.plot(tgrid(y), y, color=C_HGA, lw=0.8, zorder=2)
    ax.plot(tgrid(mean), mean, color=C_HGA_MEAN, lw=3.2, zorder=3)
    # MI
    ax = axes[r, 1]
    lines, mean = mi[r]
    ax.axvspan(*MI_SIG[r], facecolor=C_SIG, alpha=0.3, edgecolor=C_SIG, lw=1, zorder=1)
    for y in lines:
        ax.plot(tgrid(y), y, color=C_MI, lw=0.75, alpha=0.45, zorder=2)
    ax.plot(tgrid(mean), mean, color=C_MI, lw=3.2, zorder=3)
    # AUC
    ax = axes[r, 2]
    lines, mean = auc[r]
    ax.axvspan(*AUC_SIG[r], facecolor=C_SIG, alpha=0.3, edgecolor=C_SIG, lw=1, zorder=1)
    for y in lines:
        ax.plot(tgrid(y), y, color=C_AUC, lw=0.8, alpha=0.5, zorder=2)
    ax.plot(tgrid(mean), mean, color=C_AUC, lw=3.2, zorder=3)

    axes[r, 0].set_ylabel(ROW_LABELS[r], fontsize=15.5, fontweight='bold', labelpad=8)

for r in range(3):
    for c in range(3):
        ax = axes[r, c]
        ax.axvline(0, color='black', lw=2.0, zorder=4)
        ax.set_xlim(-1, 1)
        ax.set_ylim(*YLIMS[c])
        ax.set_yticks(YTICKS[c])
        ax.yaxis.set_major_formatter(FormatStrFormatter(YFMT[c]))
        ax.set_xticks(X_TICKS)
        ax.grid(True, zorder=0)
        ax.set_axisbelow(True)
        for s in ax.spines.values():
            s.set_color('#d0d0d0')
        ax.tick_params(axis='both', pad=5)
        if r == 0:
            ax.set_title(COL_TITLES[c], fontsize=14.7, fontweight='bold', pad=8)
        if r == 2:
            ax.set_xlabel('times', fontsize=14.5, labelpad=2)

handles = [Line2D([0], [0], color=C_HGA, lw=3),
           Line2D([0], [0], color=C_MI, lw=3),
           Line2D([0], [0], color=C_AUC, lw=3),
           Line2D([0], [0], color=C_SIG, lw=3)]
fig.legend(handles, LEGEND_LABELS, loc='lower center', bbox_to_anchor=(0.533, -0.012),
           ncol=4, fontsize=12, frameon=True, edgecolor='#cccccc', fancybox=True,
           handlelength=2.2, handletextpad=0.7, columnspacing=1.9)

fig.savefig('out.png', dpi=100)
